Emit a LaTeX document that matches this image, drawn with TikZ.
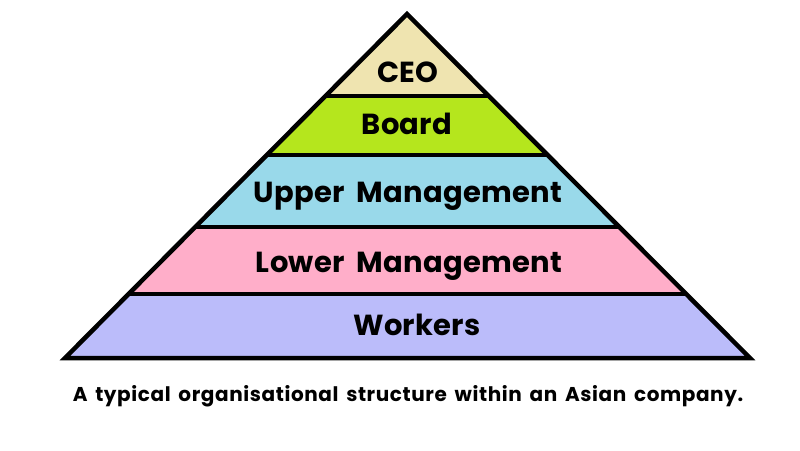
\documentclass[tikz,border=0pt]{standalone}
\usepackage{fontspec}
\setmainfont{Poppins}
\newfontfamily\lblfont[LetterSpace=1,WordSpace=1.8]{Poppins}
\newfontfamily\capfont[LetterSpace=3,WordSpace=1.6]{Poppins}
\definecolor{ceo}{HTML}{EFE4B0}
\definecolor{board}{HTML}{B5E61D}
\definecolor{upper}{HTML}{99D9EA}
\definecolor{lower}{HTML}{FFAEC9}
\definecolor{workers}{HTML}{BBBCFA}
\begin{document}
\begin{tikzpicture}[x=1pt,y=-1pt,
  lbl/.style={font=\lblfont\fontsize{29}{33}\selectfont\bfseries, text=black, inner sep=0pt, anchor=base},
  captext/.style={font=\capfont\fontsize{20}{24}\selectfont\bfseries, text=black, inner sep=0pt, anchor=base},
  edge/.style={line width=4.5pt, line join=miter, black}]
\useasboundingbox (0,0) rectangle (800,450);
\coordinate (apex) at (407,14);
\coordinate (bl) at (65,358);
\coordinate (br) at (750,358);
\coordinate (l1) at (325.5,96);  \coordinate (r1) at (488.8,96);
\coordinate (l2) at (266.8,155); \coordinate (r2) at (547.6,155);
\coordinate (l3) at (195.2,227); \coordinate (r3) at (619.4,227);
\coordinate (l4) at (128.6,294); \coordinate (r4) at (686.2,294);
\fill[ceo] (apex) -- (l1) -- (r1) -- cycle;
\fill[board] (l1) -- (l2) -- (r2) -- (r1) -- cycle;
\fill[upper] (l2) -- (l3) -- (r3) -- (r2) -- cycle;
\fill[lower] (l3) -- (l4) -- (r4) -- (r3) -- cycle;
\fill[workers] (l4) -- (bl) -- (br) -- (r4) -- cycle;
\draw[edge] (l1) -- (r1);
\draw[edge] (l2) -- (r2);
\draw[edge] (l3) -- (r3);
\draw[edge] (l4) -- (r4);
\draw[edge] (apex) -- (bl) -- (br) -- cycle;
\node[lbl] (tceo) at (408,82) {CEO};
\node[lbl] (tboard) at (407,134) {Board};
\node[lbl] (tupper) at (408,202) {Upper Management};
\node[lbl] (tlower) at (409,272) {Lower Management};
\node[lbl] (tworkers) at (417,335) {Workers};
\node[captext] (caption) at (408,401) {A typical organisational structure within an Asian company.};
\end{tikzpicture}
\end{document}
